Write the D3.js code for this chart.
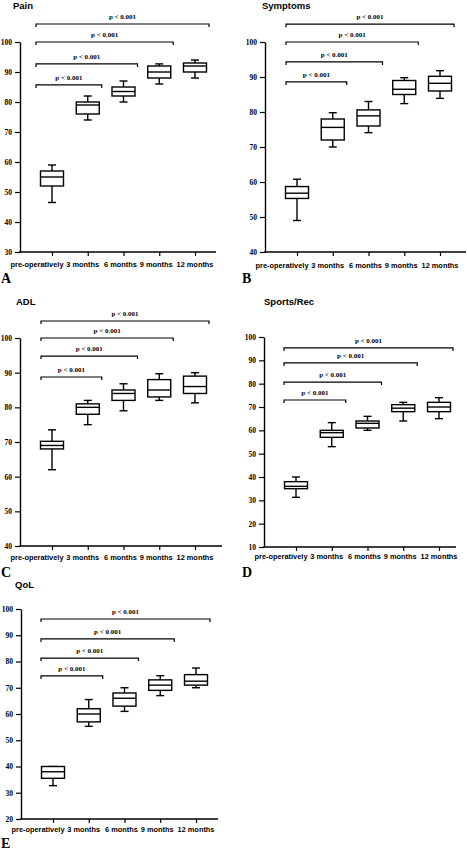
<!DOCTYPE html>
<html>
<head>
<meta charset="utf-8">
<script src="https://cdn.jsdelivr.net/npm/d3@7"></script>
<style>
  html, body { margin: 0; padding: 0; background: #fff; }
  svg { display: block; }
  .ttl { font-family: "Liberation Sans", Arial, sans-serif; font-weight: bold; font-size: 9.5px; }
  .xl { font-family: "Liberation Sans", Arial, sans-serif; font-weight: bold; font-size: 7.4px; }
  .yl text { font-family: "Liberation Serif", "Times New Roman", serif; font-weight: bold; font-size: 7.5px; }
  .pl { font-family: "Liberation Serif", "Times New Roman", serif; font-weight: bold; font-size: 7px; }
  .let { font-family: "Liberation Serif", "Times New Roman", serif; font-weight: bold; font-size: 14px; }
</style>
</head>
<body>
<svg id="chart" width="467" height="850"></svg>
<script>
// ---- data ----
const categories = ["pre-operatively", "3 months", "6 months", "9 months", "12 months"];
const panelTitles = ["Pain", "Symptoms", "ADL", "Sports/Rec", "QoL"];
const panelLetters = ["A", "B", "C", "D", "E"];
const pLabel = "p < 0.001";
// box stats: [min, q1, median, q3, max]
const painBoxes = [[46.5,52,55,57,59],[74,76,79,80,82],[80,82,83.5,85,87],[86,88,90,92,92.7],[88,90,92,93,94]];
const symptomsBoxes = [[49,55.3,56.8,58.7,60.8],[70,72,75.6,78,79.8],[74.1,76,78.9,80.6,83],[82.4,85,86.5,89,89.8],[83.9,86,88.2,90.2,91.8]];
const adlBoxes = [[62,68,69,70.2,73.5],[75,78,80,81,82],[79,82,84,85,86.8],[82,83,85,88,89.7],[81.3,84,86,89,90]];
const sportsBoxes = [[31.3,35,36,38,40],[53,57,59,60,63.3],[60,61,63,64,66],[64,68,69.5,71,72],[65,68,70,72,74]];
const qolBoxes = [[32.7,35.5,38,40,40],[55.3,57,60,62,65.5],[61,63,66,68,70],[67,69,71,73,74.6],[70,71,72.5,75,77.5]];
// y-axis domains [min, max]
const painDomain = [30, 100];
const symptomsDomain = [40, 100];
const adlDomain = [40, 100];
const sportsDomain = [10, 100];
const qolDomain = [20, 100];
// significance bracket levels (in score units) for pre vs 3, 6, 9, 12 months
const painBrackets = [85.7, 92.7, 100, 106];
const symptomsBrackets = [88.6, 94.3, 100, 105.1];
const adlBrackets = [88.75, 94.8, 100, 104.9];
const sportsBrackets = [73, 80.7, 88.9, 95.3];
const qolBrackets = [74.5, 81.3, 88.6, 96.2];

const boxesList = [painBoxes, symptomsBoxes, adlBoxes, sportsBoxes, qolBoxes];
const domainList = [painDomain, symptomsDomain, adlDomain, sportsDomain, qolDomain];
const bracketList = [painBrackets, symptomsBrackets, adlBrackets, sportsBrackets, qolBrackets];

// ---- layout (pixels) ----
const layouts = [
  {ox: 20,  top: 42,  bot: 252, xEnd: 216, tx: 13,  ty: 9,   lx: 1,   ly: 283, labY: 267, bl: -16},
  {ox: 265, top: 42,  bot: 252, xEnd: 466, tx: 262, ty: 9,   lx: 242, ly: 283, labY: 268, bl: -11},
  {ox: 20,  top: 338, bot: 546, xEnd: 222, tx: 16,  ty: 305, lx: 1,   ly: 577, labY: 560, bl: -11},
  {ox: 264, top: 337, bot: 547, xEnd: 456, tx: 264, ty: 305, lx: 242, ly: 577, labY: 559, bl: -12},
  {ox: 21,  top: 609, bot: 819, xEnd: 218, tx: 15,  ty: 588, lx: 1,   ly: 848, labY: 832, bl: -12}
];
const labelDx = [-15, -5, -3, -3, 0];
const boxW = 23, capW = 8;

const svg = d3.select("#chart");

layouts.forEach((L, i) => {
  const g = svg.append("g");
  const dom = domainList[i];
  const y = d3.scaleLinear().domain(dom).range([L.bot, L.top]);
  const x = d3.scalePoint().domain(categories).range([L.ox + 32, L.ox + 175]);

  // title & letter
  g.append("text").attr("class", "ttl").attr("x", L.tx).attr("y", L.ty).text(panelTitles[i]);
  g.append("text").attr("class", "let").attr("x", L.lx).attr("y", L.ly).text(panelLetters[i]);

  // y axis
  const ticks = d3.range(dom[0], dom[1] + 0.1, 10);
  const ya = g.append("g").attr("class", "yl").attr("transform", `translate(${L.ox},0)`)
    .call(d3.axisLeft(y).tickValues(ticks).tickSize(5).tickPadding(3).tickSizeOuter(0).tickFormat(d3.format("d")));
  ya.select(".domain").attr("stroke", "#000").attr("stroke-width", 1.4);
  ya.selectAll(".tick line").attr("stroke", "#000").attr("stroke-width", 1.2);
  ya.selectAll(".tick text").attr("fill", "#000");

  // x axis
  g.append("line").attr("x1", L.ox - 0.7).attr("x2", L.xEnd).attr("y1", L.bot).attr("y2", L.bot)
    .attr("stroke", "#000").attr("stroke-width", 1.4);
  const xa = g.append("g").attr("transform", `translate(0,${L.bot})`)
    .call(d3.axisBottom(x).tickSize(4).tickFormat(""));
  xa.select(".domain").remove();
  xa.selectAll(".tick line").attr("stroke", "#000").attr("stroke-width", 1.2);
  g.selectAll(".xl").data(categories).enter().append("text").attr("class", "xl")
    .attr("x", (d, j) => x(d) + labelDx[j]).attr("y", L.labY).attr("text-anchor", "middle").text(d => d);

  // boxes
  const bx = g.selectAll(".bx").data(boxesList[i]).enter().append("g")
    .attr("transform", (d, j) => `translate(${x(categories[j])},0)`)
    .attr("stroke", "#000").attr("fill", "none").attr("stroke-width", 1.4);
  bx.append("line").attr("x1", 0).attr("x2", 0).attr("y1", d => y(d[0])).attr("y2", d => y(d[1]));
  bx.append("line").attr("x1", 0).attr("x2", 0).attr("y1", d => y(d[3])).attr("y2", d => y(d[4]));
  bx.append("line").attr("x1", -capW / 2).attr("x2", capW / 2).attr("y1", d => y(d[0])).attr("y2", d => y(d[0]));
  bx.append("line").attr("x1", -capW / 2).attr("x2", capW / 2).attr("y1", d => y(d[4])).attr("y2", d => y(d[4]));
  bx.append("rect").attr("x", -boxW / 2).attr("width", boxW)
    .attr("y", d => y(d[3])).attr("height", d => y(d[1]) - y(d[3])).attr("fill", "#fff");
  bx.append("line").attr("x1", -boxW / 2).attr("x2", boxW / 2).attr("y1", d => y(d[2])).attr("y2", d => y(d[2]));

  // significance brackets
  const x0 = x(categories[0]) + L.bl;
  bracketList[i].forEach((lv, k) => {
    const x1 = x(categories[k + 1]) + 14;
    const yy = y(lv);
    g.append("path").attr("d", `M${x0},${yy + 3}V${yy}H${x1}V${yy + 3}`)
      .attr("fill", "none").attr("stroke", "#000").attr("stroke-width", 1.2);
    g.append("text").attr("class", "pl").attr("x", (x0 + x1) / 2).attr("y", yy - 5)
      .attr("text-anchor", "middle").text(pLabel);
  });
});
</script>
</body>
</html>
